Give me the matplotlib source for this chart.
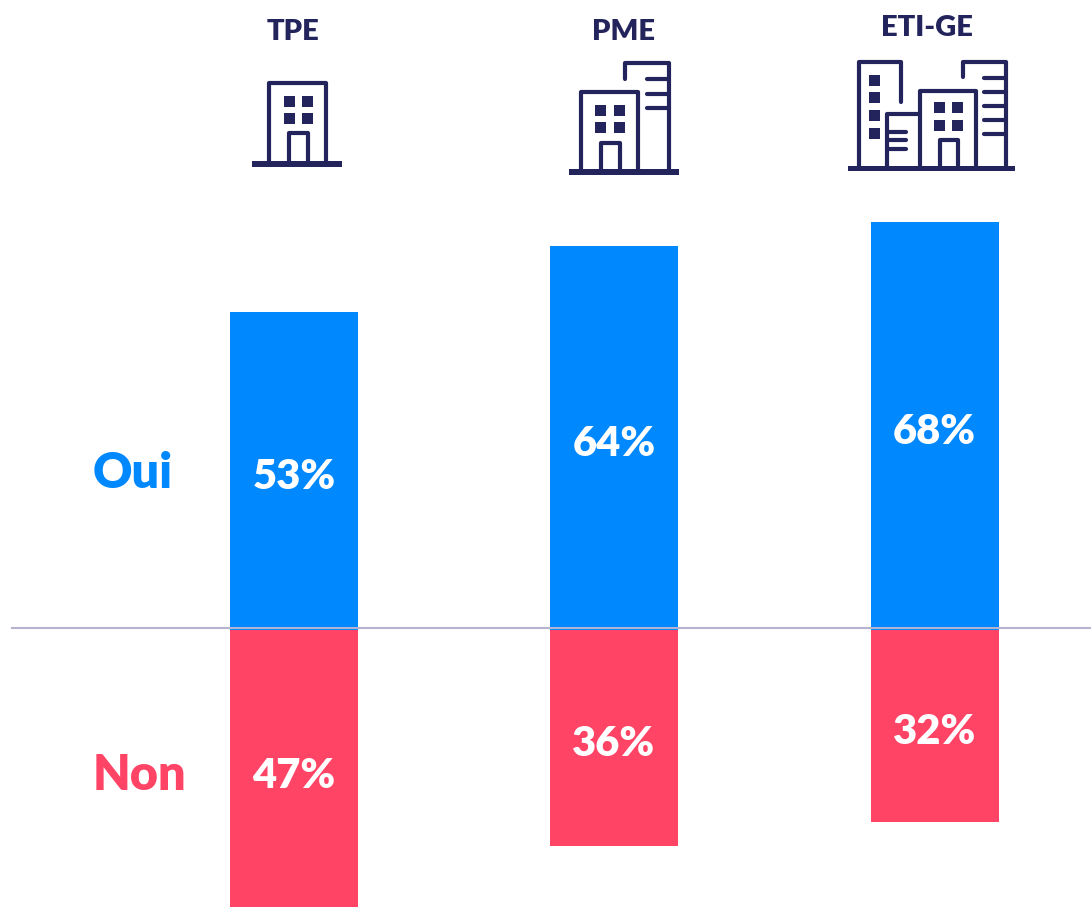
import matplotlib
matplotlib.use("Agg")
import matplotlib.pyplot as plt

categories = ["TPE", "PME", "ETI-GE"]
oui = [53, 64, 68]
non = [47, 36, 32]

BLUE = "#0088ff"
RED = "#ff4466"
NAVY = "#24245c"
GREY = "#b5b3cf"
W, H = 1091, 907
PX_PER_PCT = 6.0
BASE = 629.5

plt.rcParams["font.family"] = ["Lato", "DejaVu Sans"]

fig = plt.figure(figsize=(W / 100, H / 100), dpi=100)
ax = fig.add_axes([0, 0, 1, 1])
ax.set_xlim(0, W)
ax.set_ylim(-(H - BASE) / PX_PER_PCT, BASE / PX_PER_PCT)
ax.axis("off")

xpos = [294, 614, 934.5]
ax.bar(xpos, oui, width=128, color=BLUE, zorder=2)
ax.bar(xpos, [-v for v in non], width=128, color=RED, zorder=2)
ax.plot([12, W], [0.17, 0.17], color=GREY, lw=1.5, zorder=3)

for x, o, n in zip(xpos, oui, non):
    ax.text(x, o / 2 - 1.0, f"{o}%", color="white", fontsize=30, fontweight="heavy",
            ha="center", va="center", zorder=4)
    ax.text(x, -n / 2 - 1.0, f"{n}%", color="white", fontsize=30, fontweight="heavy",
            ha="center", va="center", zorder=4)

ax.text(133, 26, "Oui", color=BLUE, fontsize=35, fontweight="heavy", ha="center", va="center")
ax.text(139, -24.4, "Non", color=RED, fontsize=35, fontweight="heavy", ha="center", va="center")

# icons + headers are drawn in pixel coordinates on a second layer
ov = fig.add_axes([0, 0, 1, 1])
ov.set_xlim(0, W)
ov.set_ylim(H, 0)
ov.axis("off")
ov.patch.set_alpha(0)

for name, x, y in zip(categories, [293, 624, 927], [32, 32, 28]):
    ov.text(x, y, name, color=NAVY, fontsize=21, fontweight="heavy", ha="center", va="center")


def line(xs, ys, lw=3.0):
    ov.plot(xs, ys, color=NAVY, lw=lw, solid_capstyle="round", solid_joinstyle="round")


def ground(x0, x1, y):
    ov.fill([x0, x1, x1, x0], [y - 2.7, y - 2.7, y + 2.7, y + 2.7], color=NAVY, lw=0)


def windows(xs, ys, size=11):
    for wx in xs:
        for wy in ys:
            ov.fill([wx, wx + size, wx + size, wx], [wy, wy, wy + size, wy + size], color=NAVY, lw=0)


def house(x0, x1, top, dx0, dx1, dtop, bottom):
    line([x0, x0, x1, x1], [bottom, top, top, bottom])
    line([dx0, dx0, dx1, dx1], [bottom, dtop, dtop, bottom])


# TPE
ground(252.3, 342.3, 164)
house(269, 326, 83, 289, 308, 133, 162)
windows([283.5, 302], [95.7, 113.3])

# PME
ground(568.7, 678.7, 172)
house(581, 637.7, 92.3, 601, 620, 142.7, 170)
windows([595.3, 614], [104.7, 122.3])
line([625, 625, 668.7, 668.7], [79, 62.7, 62.7, 170])
for ty in [79.3, 94, 108.3]:
    line([647, 668.7], [ty, ty])

# ETI-GE
ground(847.7, 1015.3, 168.3)
line([859, 859, 901.3, 901.3], [166, 62.3, 62.3, 102.3])
windows([868.7], [75, 92.3, 110.3, 127.7])
line([887.3, 887.3, 920], [166, 114.3, 114.3])
for ty in [131.7, 140.3, 149]:
    line([887.3, 906], [ty, ty])
house(920, 975.7, 90.7, 940, 958.3, 140, 166)
windows([934.3, 952.3], [102.3, 120])
line([963.3, 963.3, 1005.7, 1005.7], [77.3, 62.3, 62.3, 166])
for ty in [78, 92, 106, 119.7, 133.7]:
    line([984, 1005.7], [ty, ty])

fig.savefig("out.png", dpi=100)
